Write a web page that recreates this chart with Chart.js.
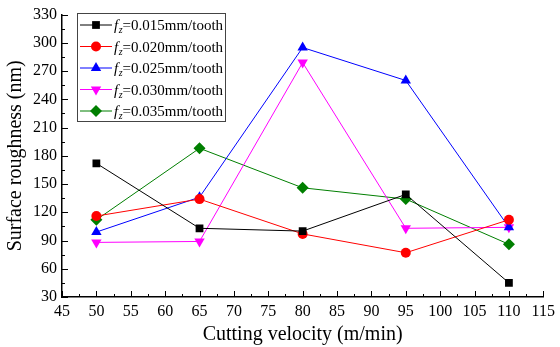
<!DOCTYPE html>
<html>
<head>
<meta charset="utf-8">
<script src="https://cdn.jsdelivr.net/npm/chart.js@4.4.1/dist/chart.umd.min.js"></script>
<style>
html,body{margin:0;padding:0;background:#fff;}
#wrap{width:560px;height:347px;position:relative;}
</style>
</head>
<body>
<div id="wrap"><canvas id="c" width="560" height="347"></canvas></div>
<script>
const velocities = [50, 65, 80, 95, 110];
const fz015 = [172, 103, 100, 139, 45];
const fz020 = [116, 134, 97, 77, 112];
const fz025 = [99, 136, 295, 260, 104];
const fz030 = [88, 89, 279, 103, 104];
const fz035 = [112, 188, 146, 134, 86];
const seriesLabels = ['0.015mm/tooth', '0.020mm/tooth', '0.025mm/tooth', '0.030mm/tooth', '0.035mm/tooth'];
const xTicks = [45, 50, 55, 60, 65, 70, 75, 80, 85, 90, 95, 100, 105, 110, 115];
const yTicks = [30, 60, 90, 120, 150, 180, 210, 240, 270, 300, 330];

const FONT = '"Liberation Serif", "Times New Roman", serif';

function ds(label, vals, color, style, radius, rot) {
  return {
    label: label,
    data: velocities.map((v, i) => ({x: v, y: vals[i]})),
    borderColor: color,
    backgroundColor: color,
    borderWidth: 1,
    pointStyle: style,
    pointRadius: radius,
    pointRotation: rot || 0,
    pointBorderWidth: 0,
    pointBorderColor: color,
    tension: 0
  };
}

const datasets = [
  ds(seriesLabels[0], fz015, '#000000', 'rect', 5.5),
  ds(seriesLabels[1], fz020, '#ff0000', 'circle', 5),
  ds(seriesLabels[2], fz025, '#0000ff', 'triangle', 6),
  ds(seriesLabels[3], fz030, '#ff00ff', 'triangle', 6, 180),
  ds(seriesLabels[4], fz035, '#007f00', 'rectRot', 6)
];

const tickPlugin = {
  id: 'innerTicks',
  afterDraw(chart) {
    const {ctx, chartArea} = chart;
    const xs = chart.scales.x, ys = chart.scales.y;
    ctx.save();
    ctx.strokeStyle = '#000';
    ctx.lineWidth = 1;
    for (let v = xTicks[0]; v <= xTicks[xTicks.length - 1] + 0.01; v += 2.5) {
      const px = Math.round(xs.getPixelForValue(v)) + 0.5;
      const major = xTicks.includes(v);
      ctx.beginPath();
      ctx.moveTo(px, chartArea.bottom);
      ctx.lineTo(px, chartArea.bottom - (major ? 6 : 3));
      ctx.stroke();
    }
    for (let v = yTicks[0]; v <= yTicks[yTicks.length - 1] + 0.01; v += 15) {
      const py = Math.round(ys.getPixelForValue(v)) + 0.5;
      const major = yTicks.includes(v);
      ctx.beginPath();
      ctx.moveTo(chartArea.left, py);
      ctx.lineTo(chartArea.left + (major ? 6 : 3), py);
      ctx.stroke();
    }
    ctx.restore();
  }
};

const legendPlugin = {
  id: 'customLegend',
  afterDraw(chart) {
    const ctx = chart.ctx;
    const bx = 77.5, by = 13.5, bw = 148, bh = 108;
    ctx.save();
    ctx.fillStyle = '#fff';
    ctx.fillRect(bx, by, bw, bh);
    ctx.strokeStyle = '#444';
    ctx.lineWidth = 1;
    ctx.strokeRect(bx, by, bw, bh);
    chart.data.datasets.forEach((d, i) => {
      const cy = 25 + i * 21.5;
      ctx.strokeStyle = d.borderColor;
      ctx.lineWidth = 1;
      ctx.beginPath();
      ctx.moveTo(80, cy);
      ctx.lineTo(112, cy);
      ctx.stroke();
      ctx.fillStyle = d.backgroundColor;
      Chart.helpers.drawPoint(ctx, {
        pointStyle: d.pointStyle,
        radius: d.pointRadius,
        rotation: d.pointRotation,
        borderWidth: 0
      }, 96, cy);
      ctx.fillStyle = '#000';
      ctx.textBaseline = 'alphabetic';
      ctx.textAlign = 'left';
      const base = cy + 5;
      let x = 114;
      ctx.font = 'italic 15px ' + FONT;
      ctx.fillText('f', x, base);
      x += ctx.measureText('f').width + 0.5;
      ctx.font = 'italic 10px ' + FONT;
      ctx.fillText('z', x, base + 3);
      x += ctx.measureText('z').width;
      ctx.font = '15px ' + FONT;
      ctx.fillText('=' + d.label, x, base);
    });
    ctx.restore();
  }
};

new Chart(document.getElementById('c'), {
  type: 'line',
  data: { datasets: datasets },
  options: {
    responsive: false,
    animation: false,
    devicePixelRatio: 1,
    layout: { padding: { top: 14, right: 12, left: 4, bottom: 0 } },
    plugins: { legend: { display: false }, tooltip: { enabled: false } },
    scales: {
      x: {
        type: 'linear',
        min: 45, max: 115,
        afterBuildTicks(scale) { scale.ticks = xTicks.map(v => ({value: v})); },
        afterFit(scale) { scale.height = 50; },
        grid: { display: false, drawTicks: false },
        border: { display: true, color: '#000', width: 1.5 },
        ticks: { color: '#000', font: { family: FONT, size: 16 }, padding: 5, maxRotation: 0, autoSkip: false },
        title: { display: true, text: 'Cutting velocity (m/min)', color: '#000', font: { family: FONT, size: 20 }, padding: { top: 0, bottom: 0 } }
      },
      y: {
        type: 'linear',
        min: 30, max: 330,
        afterBuildTicks(scale) { scale.ticks = yTicks.map(v => ({value: v})); },
        afterFit(scale) { scale.width = 58; },
        grid: { display: false, drawTicks: false },
        border: { display: true, color: '#000', width: 1.5 },
        ticks: { color: '#000', font: { family: FONT, size: 16 }, padding: 5, autoSkip: false },
        title: { display: true, text: 'Surface roughness (nm)', color: '#000', font: { family: FONT, size: 20 }, padding: { top: 0, bottom: 2 } }
      }
    }
  },
  plugins: [tickPlugin, legendPlugin]
});
</script>
</body>
</html>
